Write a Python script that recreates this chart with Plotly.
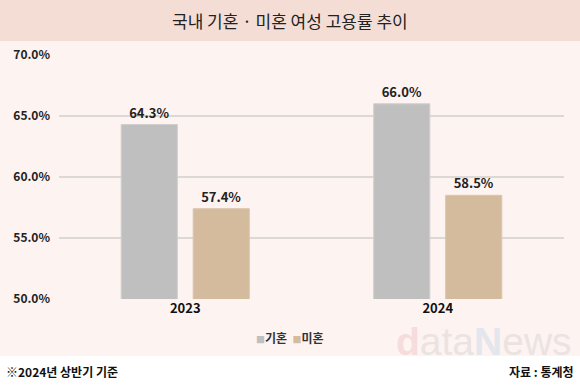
import plotly.graph_objects as go

years = ["2023", "2024"]
married = [64.3, 66.0]
unmarried = [57.4, 58.5]
series_names = ["기혼", "미혼"]
y_ticks = [50, 55, 60, 65, 70]
y_tick_labels = ["50.0%", "55.0%", "60.0%", "65.0%", "70.0%"]
colors = ["#bfbfbf", "#d4bb9d"]

FONT = "Noto Sans CJK KR"
fig = go.Figure()
for name, vals, col, edge in [(series_names[0], married, colors[0], "#cfcfcf"),
                              (series_names[1], unmarried, colors[1], "#dcc6ab")]:
    fig.add_trace(go.Bar(
        x=years, y=vals, name=name,
        marker=dict(color=col, line=dict(color=edge, width=1)),
        text=[f"<b>{v:.1f}%</b>" for v in vals], textposition="outside",
        textfont=dict(family=FONT, size=13, color="#222"), cliponaxis=False,
        hoverinfo="skip",
    ))

legend_text = (f"<span style='color:{colors[0]};font-size:9px'>■</span><b>{series_names[0]}</b>  "
               f"<span style='color:{colors[1]};font-size:9px'>■</span><b>{series_names[1]}</b>")

fig.update_layout(
    width=580, height=386,
    margin=dict(l=59, r=16, t=55, b=87),
    paper_bgcolor="white",
    plot_bgcolor="rgba(0,0,0,0)",
    barmode="group", bargap=0.43, bargroupgap=0.22,
    font=dict(family=FONT, color="#222"),
    showlegend=False,
    xaxis=dict(showgrid=False, showline=False, ticks="",
               tickvals=years, ticktext=[f"<b>{y}</b>" for y in years],
               tickfont=dict(family=FONT, size=13, color="#111")),
    yaxis=dict(range=[50, 70], tickvals=y_ticks, ticktext=[f"<b>{t}</b>" for t in y_tick_labels],
               showgrid=True, gridcolor="#dcd8d6", gridwidth=1.5,
               zeroline=False, showline=False, ticks="",
               ticklabelstandoff=8,
               tickfont=dict(family=FONT, size=12, color="#222")),
    shapes=[
        dict(type="rect", xref="paper", yref="paper", layer="below",
             x0=-59/505, x1=1+16/505, y0=-(356-299)/244, y1=1+(55-41)/244,
             fillcolor="#fdf3f0", line=dict(width=0)),
        dict(type="rect", xref="paper", yref="paper", layer="below",
             x0=-59/505, x1=1+16/505, y0=1+(55-41)/244, y1=1+55/244,
             fillcolor="#f3ddd5", line=dict(width=0)),
    ],
    annotations=[
        dict(text="국내 기혼 · 미혼 여성 고용률 추이", xref="paper", yref="paper",
             x=(290-59)/505, y=1+(55-20)/244, xanchor="center", yanchor="middle",
             showarrow=False, font=dict(family=FONT, size=17, color="#222")),
        dict(text="<span style='color:#f6dcdc'><b>d</b></span><span style='color:#ebe3e2'>ata</span><span style='color:#e4e6ee'><b>N</b></span><span style='color:#ebe3e2'>ews</span>",
             xref="paper", yref="paper", x=(574-59)/505, y=-(341-299)/244,
             xanchor="right", yanchor="middle", showarrow=False,
             font=dict(family="Liberation Sans", size=39)),
        dict(text=legend_text, xref="paper", yref="paper",
             x=(290-59)/505, y=-(337-299)/244, xanchor="center", yanchor="middle",
             showarrow=False, font=dict(family=FONT, size=12, color="#333")),
        dict(text="<b>※2024년 상반기 기준</b>", xref="paper", yref="paper",
             x=-55/505, y=-(371-299)/244, xanchor="left", yanchor="middle",
             showarrow=False, font=dict(family=FONT, size=12, color="#111")),
        dict(text="<b>자료 : 통계청</b>", xref="paper", yref="paper",
             x=1+12/505, y=-(371-299)/244, xanchor="right", yanchor="middle",
             showarrow=False, font=dict(family=FONT, size=12, color="#111")),
    ],
)

fig.write_html("out.html", config={"displayModeBar": False},
               post_script="document.body.style.margin='0px';")
